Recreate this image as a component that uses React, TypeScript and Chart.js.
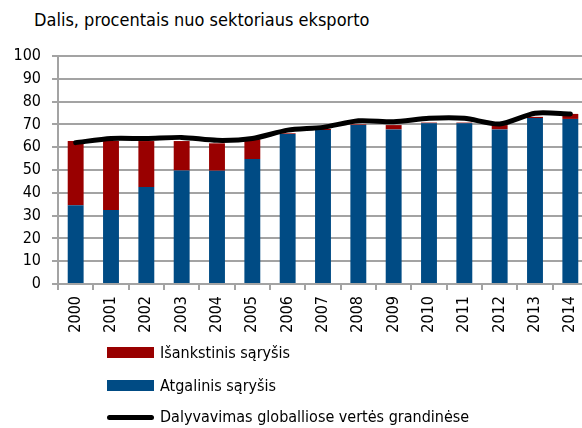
import React, { useEffect, useRef } from "react";
import { Chart, registerables } from "chart.js";

Chart.register(...registerables);

const years = ["2000", "2001", "2002", "2003", "2004", "2005", "2006", "2007", "2008", "2009", "2010", "2011", "2012", "2013", "2014"];
const backward = [34.5, 32.5, 42.5, 49.8, 49.7, 54.8, 65.8, 67.5, 69.7, 67.8, 70.5, 70.5, 67.8, 72.8, 72.4];
const forward = [28.2, 30.2, 20.2, 12.9, 12.0, 8.7, 0.3, 0.5, 0.3, 1.9, 0.3, 0.3, 1.9, 0.5, 2.2];
const participation = [62, 63.8, 63.8, 64.3, 63, 63.8, 67.5, 68.7, 71.6, 71.2, 72.7, 72.7, 70.2, 74.9, 74.6];
const yTicks = [0, 10, 20, 30, 40, 50, 60, 70, 80, 90, 100];

const titleText = "Dalis, procentais nuo sektoriaus eksporto";
const labelForward = "Išankstinis sąryšis";
const labelBackward = "Atgalinis sąryšis";
const labelLine = "Dalyvavimas globalliose vertės grandinėse";

const RED = "#990000";
const BLUE = "#004b84";
const GRID = "#a3a3a3";
const FONT = "'DejaVu Sans Condensed', 'DejaVu Sans', sans-serif";

export default function App() {
  const ref = useRef<HTMLCanvasElement | null>(null);

  useEffect(() => {
    if (!ref.current) return;
    const chart = new Chart(ref.current, {
      type: "bar",
      data: {
        labels: years,
        datasets: [
          {
            type: "line",
            label: labelLine,
            data: participation,
            borderColor: "#000000",
            borderWidth: 5,
            tension: 0.25,
            pointRadius: 0,
            fill: false,
            stack: "line",
            order: 0,
            borderCapStyle: "round",
          } as any,
          {
            label: labelBackward,
            data: backward,
            backgroundColor: BLUE,
            stack: "bars",
            order: 1,
            categoryPercentage: 1,
            barPercentage: 0.45,
          },
          {
            label: labelForward,
            data: forward,
            backgroundColor: RED,
            stack: "bars",
            order: 1,
            categoryPercentage: 1,
            barPercentage: 0.45,
          },
        ],
      },
      options: {
        animation: false,
        responsive: false,
        maintainAspectRatio: false,
        layout: { padding: { top: 56, right: 12, left: 0, bottom: 0 } },
        plugins: { legend: { display: false }, tooltip: { enabled: false }, title: { display: false } },
        scales: {
          x: {
            stacked: true,
            offset: true,
            grid: { display: true, drawOnChartArea: false, drawTicks: true, tickLength: 6, offset: true, color: GRID, lineWidth: 2 },
            border: { display: true, color: GRID, width: 2 },
            ticks: {
              minRotation: 90,
              maxRotation: 90,
              autoSkip: false,
              padding: 6,
              color: "#000",
              font: { family: FONT, size: 16 },
            },
            afterFit: (s: any) => {
              s.height = 61;
            },
          },
          y: {
            stacked: true,
            min: 0,
            max: 100,
            afterBuildTicks: (s: any) => {
              s.ticks = yTicks.map((v) => ({ value: v }));
            },
            grid: { color: GRID, lineWidth: 2, tickLength: 6 },
            border: { display: true, color: GRID, width: 2 },
            ticks: {
              padding: 11,
              color: "#000",
              font: { family: FONT, size: 16 },
            },
            afterFit: (s: any) => {
              s.width = 58;
            },
          },
        },
      },
    });
    return () => chart.destroy();
  }, []);

  const textStyle: React.CSSProperties = {
    position: "absolute",
    left: 160,
    fontFamily: FONT,
    fontSize: 16,
    color: "#000",
    lineHeight: "20px",
    whiteSpace: "nowrap",
  };

  return (
    <div style={{ position: "fixed", left: 0, top: 0, width: 582, height: 428, overflow: "hidden", background: "#fff" }}>
      <div style={{ position: "absolute", left: 34, top: 10, fontFamily: FONT, fontSize: 18, lineHeight: "20px", color: "#000", whiteSpace: "nowrap" }}>
        {titleText}
      </div>
      <canvas ref={ref} width={600} height={345} style={{ position: "absolute", left: 0, top: 0, width: 600, height: 345 }} />
      <div style={{ position: "absolute", left: 107, top: 347, width: 47, height: 11, background: RED }} />
      <div style={{ ...textStyle, top: 343 }}>{labelForward}</div>
      <div style={{ position: "absolute", left: 107, top: 380, width: 47, height: 11, background: BLUE }} />
      <div style={{ ...textStyle, top: 376 }}>{labelBackward}</div>
      <div style={{ position: "absolute", left: 107, top: 415, width: 47, height: 5, background: "#000", borderRadius: 3 }} />
      <div style={{ ...textStyle, top: 407 }}>{labelLine}</div>
    </div>
  );
}
